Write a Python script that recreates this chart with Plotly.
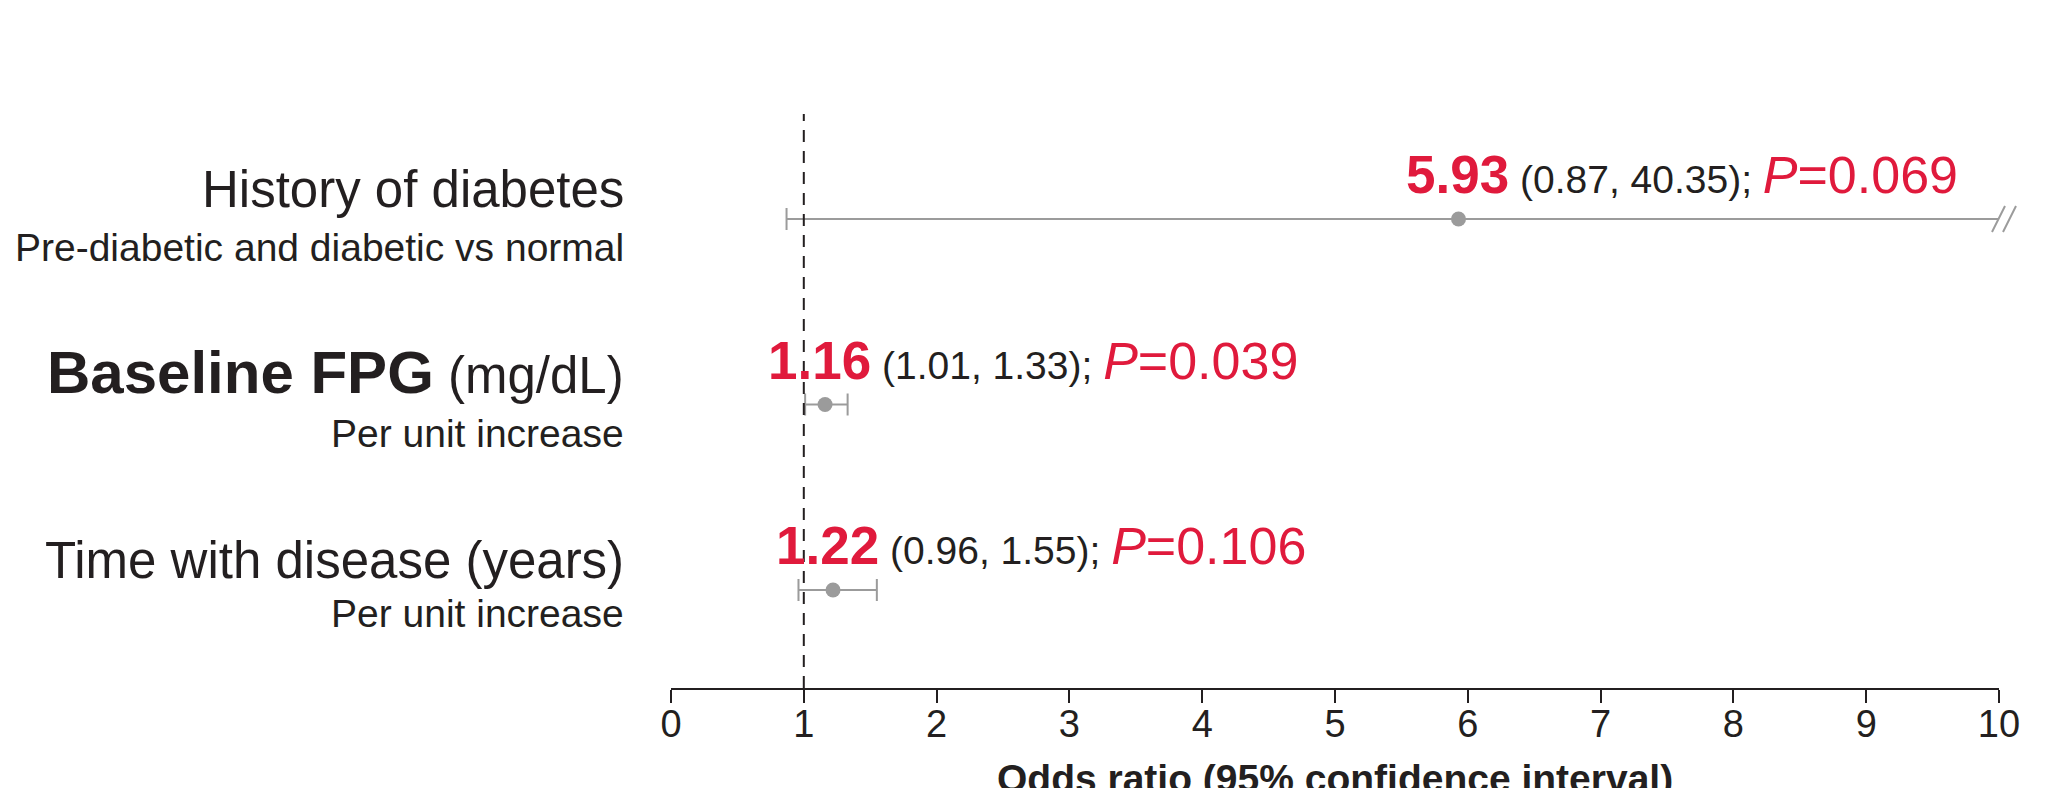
import plotly.graph_objects as go

# ---------------- data ----------------
factor_names = ["History of diabetes", "Baseline FPG", "Time with disease"]
factor_units = ["", "(mg/dL)", "(years)"]
factor_sub = ["Pre-diabetic and diabetic vs normal", "Per unit increase", "Per unit increase"]
odds_ratio = [5.93, 1.16, 1.22]
ci_lower = [0.87, 1.01, 0.96]
ci_upper = [40.35, 1.33, 1.55]
p_values = [0.069, 0.039, 0.106]
reference_or = 1
x_ticks = [0, 1, 2, 3, 4, 5, 6, 7, 8, 9, 10]
x_title = "Odds ratio (95% confidence interval)"

# ---------------- style ----------------
# page body has an 8px default margin, so the figure is 8px smaller than the window
W, H = 2039, 780
ML, MR, MT, MB = 663, 48, 92, 100
FONT = "Liberation Sans, Arial, Helvetica, sans-serif"
DARK = "#231f20"
RED = "#e01a3c"
GRAY = "#9b9b9b"
X_MAX = x_ticks[-1]
Y_RANGE = [0.4717, 3.6415]
emphasized_row = 1
sub_shift = [-28.5, -28.5, -23.5]
val_shift = [-55, -59, -59]

n = len(factor_names)
ypos = [n - i for i in range(n)]

fig = go.Figure()

# error bars + point estimates
fig.add_trace(go.Scatter(
    x=odds_ratio, y=ypos, mode="markers",
    marker=dict(size=15, color=GRAY),
    error_x=dict(type="data", symmetric=False,
                 array=[u - e for u, e in zip(ci_upper, odds_ratio)],
                 arrayminus=[e - l for e, l in zip(odds_ratio, ci_lower)],
                 color=GRAY, thickness=2, width=11),
    hoverinfo="skip", showlegend=False, cliponaxis=True,
))

shapes = []
# reference line at OR = 1
shapes.append(dict(type="line", xref="x", yref="paper", x0=reference_or, x1=reference_or,
                   y0=0, y1=0.976, line=dict(color=DARK, width=2, dash="12px,9px"), layer="above"))

# axis-break marks for CIs beyond the axis
plot_w = W - ML - MR
plot_h = H - MT - MB
for i, u in enumerate(ci_upper):
    if u > X_MAX:
        yp = (ypos[i] - Y_RANGE[0]) / (Y_RANGE[1] - Y_RANGE[0])
        for dx in (0, 11):
            shapes.append(dict(type="line", xref="paper", yref="paper",
                               x0=1 + (-7 + dx) / plot_w, x1=1 + (6 + dx) / plot_w,
                               y0=yp - 13 / plot_h, y1=yp + 13 / plot_h,
                               line=dict(color=GRAY, width=2)))

annotations = []
for i in range(n):
    # main label
    if i == emphasized_row:
        main = (f"<span style='font-size:60px'><b>{factor_names[i]}</b></span> "
                f"{factor_units[i]}")
        ys = 32
    else:
        main = factor_names[i] + (f" {factor_units[i]}" if factor_units[i] else "")
        ys = 29.7
    annotations.append(dict(text=main, xref="paper", x=0, xshift=-45, xanchor="right",
                            yref="y", y=ypos[i], yshift=ys, yanchor="middle",
                            showarrow=False, font=dict(family=FONT, size=51, color=DARK)))
    # sub label
    annotations.append(dict(text=factor_sub[i], xref="paper", x=0, xshift=-45, xanchor="right",
                            yref="y", y=ypos[i], yshift=sub_shift[i], yanchor="middle",
                            showarrow=False, font=dict(family=FONT, size=39, color=DARK)))
    # value text
    val = (f"<span style='font-size:53px;color:{RED}'><b>{odds_ratio[i]:.2f}</b></span> "
           f"({ci_lower[i]:.2f}, {ci_upper[i]:.2f}); "
           f"<span style='font-size:52px;color:{RED}'><i>P</i>={p_values[i]:.3f}</span>")
    annotations.append(dict(text=val, xref="x", x=odds_ratio[i], xshift=val_shift[i], xanchor="left",
                            yref="y", y=ypos[i], yshift=44.4, yanchor="middle",
                            showarrow=False, font=dict(family=FONT, size=39, color=DARK)))

# axis title
annotations.append(dict(text=f"<b>{x_title}</b>", xref="paper", x=0.5, xanchor="center",
                        yref="paper", y=-0.1539, yanchor="middle", showarrow=False,
                        font=dict(family=FONT, size=39, color=DARK)))

fig.update_layout(
    width=W, height=H,
    margin=dict(l=ML, r=MR, t=MT, b=MB, pad=0),
    paper_bgcolor="white", plot_bgcolor="white",
    xaxis=dict(range=[x_ticks[0], X_MAX], tickvals=x_ticks, ticktext=[str(t) for t in x_ticks],
               showline=True, linecolor=DARK, linewidth=2, ticks="outside", ticklen=13,
               tickwidth=2, tickcolor=DARK, showgrid=False, zeroline=False,
               tickfont=dict(family=FONT, size=38, color=DARK), ticklabelstandoff=-12),
    yaxis=dict(range=Y_RANGE, visible=False, showgrid=False, zeroline=False),
    shapes=shapes, annotations=annotations, showlegend=False,
)

fig.write_html("out.html")
